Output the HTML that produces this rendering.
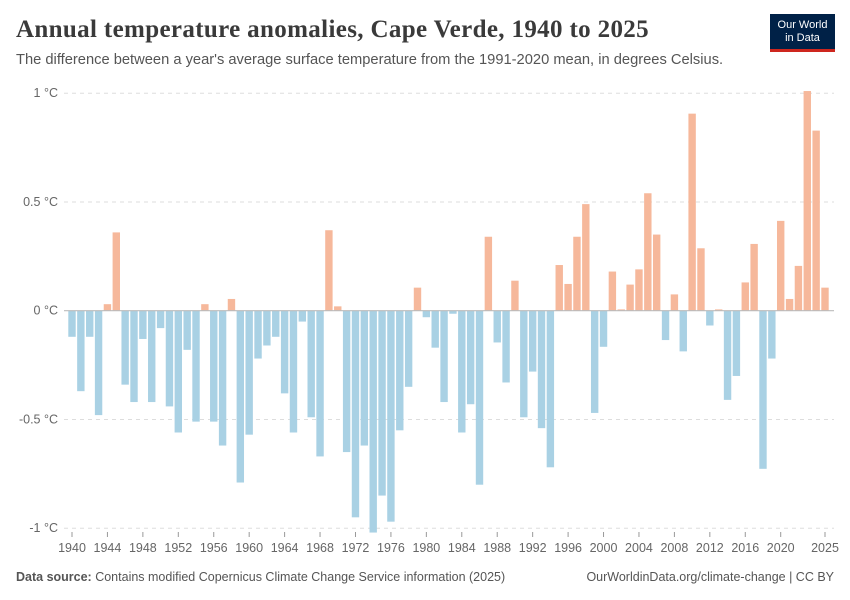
<!DOCTYPE html>
<html><head><meta charset="utf-8"><style>
body{margin:0;background:#fff;width:850px;height:600px;overflow:hidden;font-family:"Liberation Sans",sans-serif}
.t{position:absolute;white-space:nowrap}
</style></head><body>
<div class="t" style="left:16px;top:16px;font-family:'Liberation Serif',serif;font-size:25px;font-weight:bold;letter-spacing:0.35px;color:#3a3a3a">Annual temperature anomalies, Cape Verde, 1940 to 2025</div>
<div class="t" style="left:16px;top:52px;font-size:14.7px;color:#555">The difference between a year's average surface temperature from the 1991-2020 mean, in degrees Celsius.</div>
<div style="position:absolute;left:770px;top:14px;width:65px;height:38px;background:#002147;border-bottom:3px solid #ce261e;box-sizing:border-box;color:#fff;font-size:11px;line-height:13px;text-align:center;padding-top:5px">Our World<br>in Data</div>
<svg id="c" width="850" height="600" style="position:absolute;left:0;top:0"></svg>
<div class="t" style="left:16px;top:570px;font-size:12.5px;color:#555"><b>Data source:</b> Contains modified Copernicus Climate Change Service information (2025)</div>
<div class="t" style="right:16px;top:570px;font-size:12.5px;color:#555">OurWorldinData.org/climate-change | CC BY</div>
<script>
const years=[];for(let y=1940;y<=2025;y++)years.push(y);
const values=[-0.12,-0.37,-0.12,-0.48,0.03,0.36,-0.34,-0.42,-0.13,-0.42,-0.08,-0.44,-0.56,-0.18,-0.51,0.03,-0.51,-0.62,0.054,-0.79,-0.57,-0.22,-0.16,-0.12,-0.38,-0.56,-0.05,-0.49,-0.67,0.37,0.02,-0.65,-0.95,-0.62,-1.02,-0.85,-0.97,-0.55,-0.35,0.106,-0.03,-0.17,-0.42,-0.014,-0.56,-0.43,-0.80,0.34,-0.146,-0.33,0.138,-0.49,-0.28,-0.54,-0.72,0.21,0.123,0.34,0.49,-0.47,-0.166,0.18,0.006,0.12,0.19,0.54,0.35,-0.135,0.075,-0.187,0.906,0.287,-0.068,0.006,-0.41,-0.30,0.13,0.307,-0.727,-0.22,0.413,0.054,0.206,1.01,0.828,0.106];
const yTicks=[1,0.5,0,-0.5,-1];
const yTickLabels=["1 °C","0.5 °C","0 °C","-0.5 °C","-1 °C"];
const xTicks=[1940,1944,1948,1952,1956,1960,1964,1968,1972,1976,1980,1984,1988,1992,1996,2000,2004,2008,2012,2016,2020,2025];
const svg=document.getElementById('c');const NS='http://www.w3.org/2000/svg';
const X=y=>72+(y-1940)*(825-72)/85;
const Y=v=>310.7-v*217.5;
function el(t,a){const e=document.createElementNS(NS,t);for(const k in a)e.setAttribute(k,a[k]);svg.appendChild(e);return e;}
yTicks.forEach((v,i)=>{
 if(v!==0){const g=el('line',{x1:64,x2:834,y1:Y(v),y2:Y(v),stroke:'#ddd','stroke-dasharray':'4,4'});
 
 }
 const t=el('text',{x:58,y:Y(v)+4,'text-anchor':'end','font-size':12.5,fill:'#666','font-family':'Liberation Sans'});
 t.textContent=yTickLabels[i];
 
 
});
years.forEach((yr,i)=>{
 const v=values[i];const y0=Y(0),y1=Y(v);
 const r=el('rect',{x:X(yr)-3.7,width:7.4,y:Math.min(y0,y1),height:Math.abs(y1-y0),fill:v>=0?'#f6b89b':'#a9d1e4'});
 
 
});
const z=el('line',{x1:64,x2:834,y1:Y(0),y2:Y(0),stroke:'#bbb','stroke-width':1.2});


xTicks.forEach(yr=>{
 const tk=el('line',{x1:X(yr),x2:X(yr),y1:532,y2:537,stroke:'#999'});
 
 
 const t=el('text',{x:X(yr),y:552,'text-anchor':'middle','font-size':12.5,fill:'#666','font-family':'Liberation Sans'});
 t.textContent=yr;
 
 
});
</script>
</body></html>
